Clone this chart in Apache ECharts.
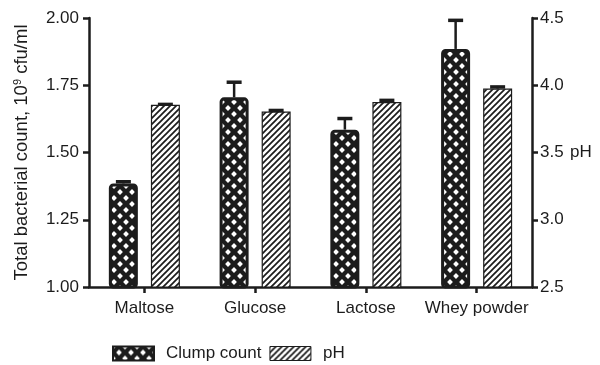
<!DOCTYPE html>
<html>
<head>
<meta charset="utf-8">
<script src="https://cdn.jsdelivr.net/npm/echarts@6/dist/echarts.min.js"></script>
<style>
html,body{margin:0;padding:0;background:#fff;}
#chart{width:600px;height:365px;}
</style>
</head>
<body>
<div id="chart"></div>
<script>
const categories = ['Maltose', 'Glucose', 'Lactose', 'Whey powder'];
const clumpCount = [1.385, 1.705, 1.585, 1.885];
const clumpErr = [0.01, 0.06, 0.045, 0.11];
const phValues = [3.855, 3.805, 3.875, 3.975];
const phErr = [0.01, 0.015, 0.02, 0.02];
const leftTicks = {min: 1, max: 2, interval: 0.25};
const rightTicks = {min: 2.5, max: 4.5, interval: 0.5};

const INK = '#1c1c1c';
const FONT = 'Liberation Sans, Arial, sans-serif';
const BAR_W = 29;
const GAP = 13;

function crossPattern() {
  const c = document.createElement('canvas');
  c.width = 12; c.height = 12;
  const g = c.getContext('2d');
  g.fillStyle = INK; g.fillRect(0, 0, 12, 12);
  g.fillStyle = '#fff';
  const d = 2.9;
  const centers = [[6, 6], [0, 0], [12, 0], [0, 12], [12, 12]];
  centers.forEach(([x, y]) => {
    g.beginPath();
    g.moveTo(x, y - d); g.lineTo(x + d, y); g.lineTo(x, y + d); g.lineTo(x - d, y);
    g.closePath(); g.fill();
  });
  return c;
}
function hatchPattern() {
  const s = 6;
  const c = document.createElement('canvas');
  c.width = s; c.height = s;
  const g = c.getContext('2d');
  g.fillStyle = '#fff'; g.fillRect(0, 0, s, s);
  g.strokeStyle = INK; g.lineWidth = 1.7;
  g.beginPath();
  g.moveTo(0, s); g.lineTo(s, 0);
  g.moveTo(-1, 1); g.lineTo(1, -1);
  g.moveTo(s - 1, s + 1); g.lineTo(s + 1, s - 1);
  g.stroke();
  return c;
}
const crossFill = {image: crossPattern(), repeat: 'repeat'};
const hatchFill = {image: hatchPattern(), repeat: 'repeat'};

function errorSeries(name, values, errs, yAxisIndex, offset) {
  return {
    name: name + ' err',
    type: 'custom',
    yAxisIndex: yAxisIndex,
    z: 1,
    silent: true,
    data: values.map((v, i) => [i, v, v + errs[i]]),
    renderItem: function (params, api) {
      const base = api.coord([api.value(0), api.value(1)]);
      const top = api.coord([api.value(0), api.value(2)]);
      const x = base[0] + offset;
      return {
        type: 'group',
        children: [
          {type: 'line', shape: {x1: x, y1: base[1], x2: x, y2: top[1]},
           style: {stroke: INK, lineWidth: 2.5}},
          {type: 'line', shape: {x1: x - 7.5, y1: top[1] + 1, x2: x + 7.5, y2: top[1] + 1},
           style: {stroke: INK, lineWidth: 3.5}}
        ]
      };
    }
  };
}

const chart = echarts.init(document.getElementById('chart'), null, {renderer: 'canvas'});
const off = (BAR_W + GAP) / 2;
chart.setOption({
  animation: false,
  backgroundColor: '#fff',
  textStyle: {fontFamily: FONT},
  grid: {left: 89, right: 68, top: 18, bottom: 78, containLabel: false},
  legend: {
    left: 112, top: 345, padding: 0,
    itemWidth: 41, itemHeight: 14, itemGap: 8,
    textStyle: {fontFamily: FONT, fontSize: 17, color: INK, padding: [0, 0, 0, 7]},
    data: [
      {name: 'Clump count', icon: 'rect', itemStyle: {color: crossFill, borderColor: INK, borderWidth: 2}},
      {name: 'pH', icon: 'rect', itemStyle: {color: hatchFill, borderColor: INK, borderWidth: 1}}
    ]
  },
  xAxis: {
    type: 'category',
    data: categories,
    axisLine: {lineStyle: {color: INK, width: 2.5}},
    axisTick: {show: true, alignWithLabel: true, length: 6, lineStyle: {width: 2.5, color: INK}},
    axisLabel: {color: INK, fontSize: 17, fontFamily: FONT, margin: 13, interval: 0, hideOverlap: false}
  },
  yAxis: [
    {
      type: 'value', position: 'left',
      min: leftTicks.min, max: leftTicks.max, interval: leftTicks.interval,
      name: 'Total bacterial count, 10{sup|9} cfu/ml',
      nameLocation: 'middle', nameGap: 58,
      nameTextStyle: {fontFamily: FONT, fontSize: 18.5, color: INK,
        rich: {sup: {fontSize: 11, verticalAlign: 'top', fontFamily: FONT, color: INK, padding: [0, 0, 8, 0]}}},
      axisLine: {show: true, lineStyle: {color: INK, width: 2.5}},
      axisTick: {show: true, length: 6, lineStyle: {color: INK, width: 2.5}},
      splitLine: {show: false},
      axisLabel: {color: INK, fontSize: 17, fontFamily: FONT, margin: 10,
        formatter: v => v.toFixed(2)}
    },
    {
      type: 'value', position: 'right',
      min: rightTicks.min, max: rightTicks.max, interval: rightTicks.interval,
      name: 'pH', nameLocation: 'middle', nameGap: 38, nameRotate: 0,
      nameTextStyle: {fontFamily: FONT, fontSize: 17, color: INK, align: 'left'},
      axisLine: {show: true, lineStyle: {color: INK, width: 2.5}},
      axisTick: {show: true, length: 6, lineStyle: {color: INK, width: 2.5}},
      splitLine: {show: false},
      axisLabel: {color: INK, fontSize: 17, fontFamily: FONT, margin: 8,
        formatter: v => v.toFixed(1)}
    }
  ],
  series: [
    {
      name: 'Clump count', type: 'bar', yAxisIndex: 0,
      barWidth: BAR_W, barGap: (GAP / BAR_W * 100).toFixed(0) + '%',
      data: clumpCount, z: 2,
      itemStyle: {color: crossFill, borderColor: INK, borderWidth: 3, borderRadius: 3}
    },
    {
      name: 'pH', type: 'bar', yAxisIndex: 1,
      barWidth: BAR_W,
      data: phValues, z: 2,
      itemStyle: {color: hatchFill, borderColor: INK, borderWidth: 1.2}
    },
    errorSeries('Clump count', clumpCount, clumpErr, 0, -off),
    errorSeries('pH', phValues, phErr, 1, off)
  ]
});
</script>
</body>
</html>
